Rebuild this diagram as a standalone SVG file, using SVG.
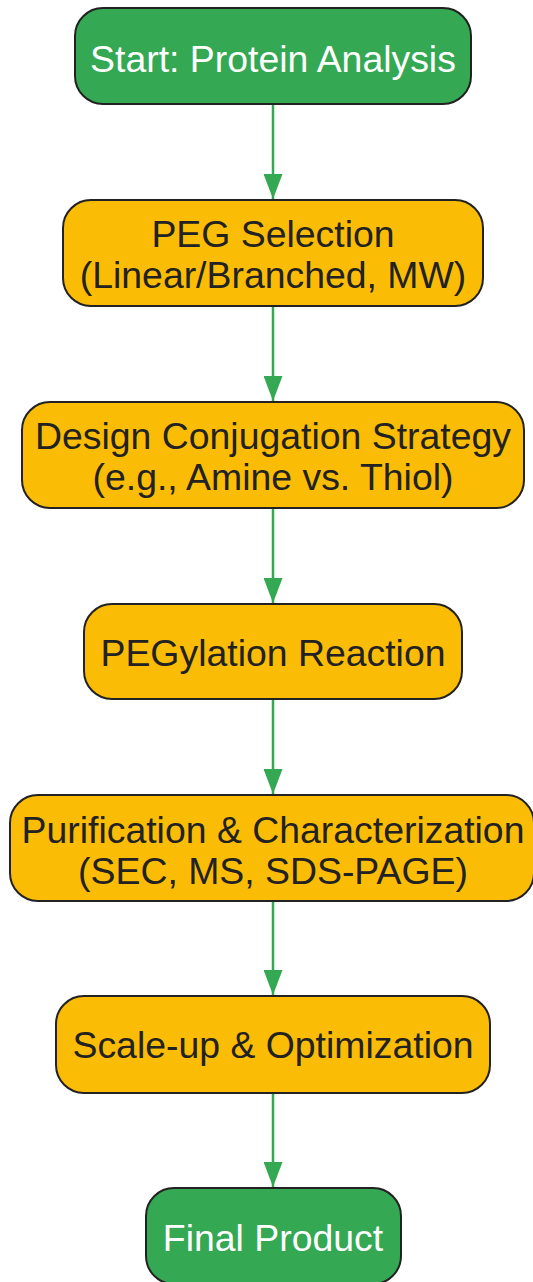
<svg xmlns="http://www.w3.org/2000/svg" width="533" height="1282" viewBox="0 0 533 1282">
<style>
.n rect{stroke:#222222;stroke-width:2}
.g rect{fill:#34A853}
.y rect{fill:#FBBC05}
text{font-family:"Liberation Sans",Arial,sans-serif;font-size:37.4px;text-anchor:middle}
.g text{fill:#ffffff}
.y text{fill:#222222}
.c line{stroke:#34A853;stroke-width:2.5}
</style>
<defs>
<marker id="ah" markerUnits="userSpaceOnUse" markerWidth="25" markerHeight="19" refX="25" refY="9.5" orient="auto">
<path d="M0,0 L25,9.5 L0,19 z" fill="#34A853"/>
</marker>
</defs>
<g id="connectors" class="c">
<line x1="273" y1="104" x2="273" y2="199" marker-end="url(#ah)"/>
<line x1="273" y1="306" x2="273" y2="401" marker-end="url(#ah)"/>
<line x1="273" y1="508" x2="273" y2="603" marker-end="url(#ah)"/>
<line x1="273" y1="699" x2="273" y2="794" marker-end="url(#ah)"/>
<line x1="273" y1="901" x2="273" y2="995" marker-end="url(#ah)"/>
<line x1="273" y1="1093" x2="273" y2="1187" marker-end="url(#ah)"/>
</g>
<g id="start" class="n g">
<rect x="75" y="8" width="396" height="96" rx="28"/>
<text x="273" y="72">Start: Protein Analysis</text>
</g>
<g id="peg-selection" class="n y">
<rect x="63" y="200" width="420" height="106" rx="28"/>
<text x="273" y="247">PEG Selection</text>
<text x="273" y="288">(Linear/Branched, MW)</text>
</g>
<g id="design" class="n y">
<rect x="22" y="402" width="502" height="106" rx="28"/>
<text x="273" y="449">Design Conjugation Strategy</text>
<text x="273" y="490">(e.g., Amine vs. Thiol)</text>
</g>
<g id="reaction" class="n y">
<rect x="84" y="604" width="378" height="95" rx="28"/>
<text x="273" y="666">PEGylation Reaction</text>
</g>
<g id="purification" class="n y">
<rect x="10" y="795" width="524" height="106" rx="28"/>
<text x="273" y="843">Purification &amp; Characterization</text>
<text x="273" y="884">(SEC, MS, SDS-PAGE)</text>
</g>
<g id="scaleup" class="n y">
<rect x="56" y="996" width="434" height="97" rx="28"/>
<text x="273" y="1058">Scale-up &amp; Optimization</text>
</g>
<g id="final" class="n g">
<rect x="146" y="1188" width="255" height="96" rx="28"/>
<text x="273" y="1251">Final Product</text>
</g>
</svg>
